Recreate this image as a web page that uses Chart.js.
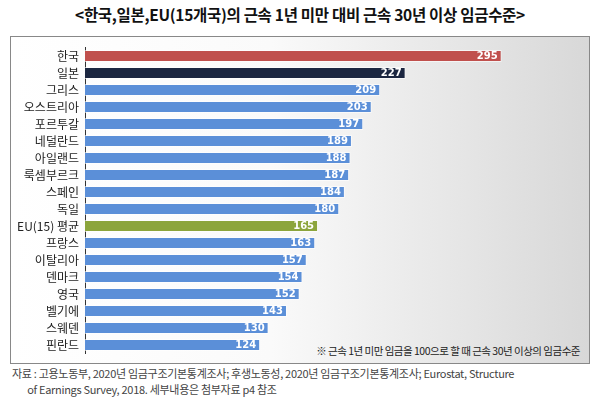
<!DOCTYPE html>
<html><head><meta charset="utf-8">
<script src="https://cdn.jsdelivr.net/npm/chart.js@4"></script>
<style>
body{margin:0;width:600px;height:402px;background:#fff;font-family:"Noto Sans CJK KR","Noto Sans",sans-serif;position:relative;overflow:hidden}
#title{position:absolute;left:0;top:3px;width:600px;text-align:center;font-weight:bold;font-size:15.5px;color:#111;letter-spacing:-0.3px}
#box{position:absolute;left:10px;top:36px;width:578px;height:326px;border:1px solid #888;background:linear-gradient(90deg,#ffffff 0%,#fafafa 45%,#d8d8d8 100%)}
#note{position:absolute;right:20px;top:343px;font-size:10.5px;color:#222;letter-spacing:-0.5px}
#src{position:absolute;left:12px;top:365px;font-size:11px;color:#444;line-height:16px;letter-spacing:-0.3px}
#wrap{position:absolute;left:0;top:0;width:600px;height:402px}
</style></head><body>
<div id="title">&lt;한국,일본,EU(15개국)의 근속 1년 미만 대비 근속 30년 이상 임금수준&gt;</div>
<div id="box"></div>
<div id="note">※ 근속 1년 미만 임금을 100으로 할 때 근속 30년 이상의 임금수준</div>
<div id="src">자료 : 고용노동부, 2020년 임금구조기본통계조사; 후생노동성, 2020년 임금구조기본통계조사; Eurostat, Structure<br>&nbsp;&nbsp;&nbsp;&nbsp;&nbsp;&nbsp;&nbsp;of Earnings Survey, 2018. 세부내용은 첨부자료 p4 참조</div>
<div id="wrap"><canvas id="c" width="600" height="402"></canvas></div>
<script>
const categories=["한국","일본","그리스","오스트리아","포르투갈","네덜란드","아일랜드","룩셈부르크","스페인","독일","EU(15) 평균","프랑스","이탈리아","덴마크","영국","벨기에","스웨덴","핀란드"];
const values=[295,227,209,203,197,189,188,187,184,180,165,163,157,154,152,143,130,124];
const highlight={"한국":"#c0504d","일본":"#1c2741","EU(15) 평균":"#8ca53c"};
const colors=categories.map(c=>highlight[c]||"#5b8fd8");
const labelPlugin={id:"lbl",afterDatasetsDraw(ch){const ctx=ch.ctx;const m=ch.getDatasetMeta(0);ctx.save();ctx.font="bold 10px 'DejaVu Sans'";ctx.fillStyle="#fff";ctx.textAlign="right";ctx.textBaseline="middle";m.data.forEach((b,i)=>{ctx.fillText(values[i],b.x-4,b.y+0.5);});ctx.restore();}};
new Chart(document.getElementById("c"),{type:"bar",data:{labels:categories,datasets:[{data:values,backgroundColor:colors,borderColor:"rgba(255,255,255,0.6)",borderWidth:1,barPercentage:0.72,categoryPercentage:1}]},
options:{indexAxis:"y",responsive:false,animation:false,layout:{padding:{top:47.5,bottom:48.5,right:15,left:0}},
plugins:{legend:{display:false},tooltip:{enabled:false}},
scales:{x:{display:false,min:0,max:354},y:{afterFit(s){s.width=85;},grid:{display:false,drawTicks:false},border:{display:true,color:"#333",width:1},ticks:{autoSkip:false,color:"#222",padding:6,font:{size:12,family:"'Noto Sans CJK KR'"}}}}},plugins:[labelPlugin]});
</script></body></html>
